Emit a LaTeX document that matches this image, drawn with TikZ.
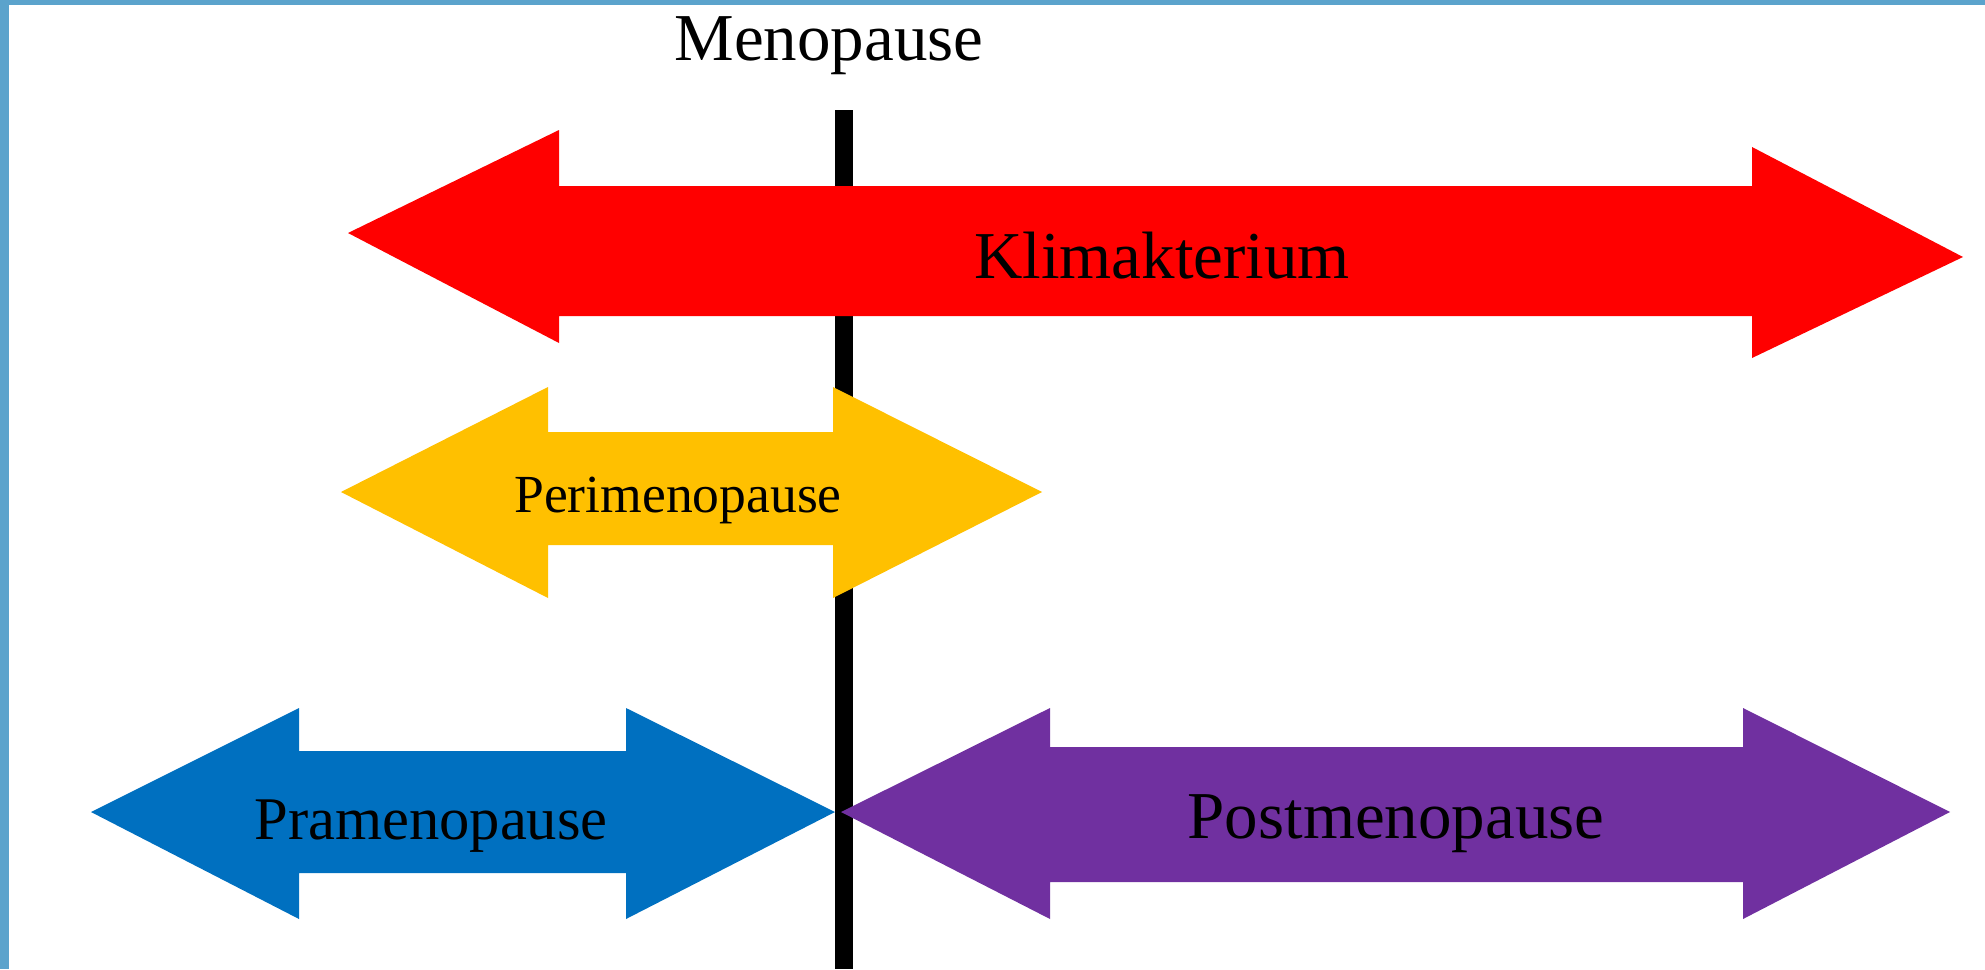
\documentclass[tikz,border=0pt]{standalone}
\usepackage{fontspec}
\setmainfont{Liberation Serif}
\definecolor{frameblue}{HTML}{5BA3CC}
\definecolor{klired}{HTML}{FF0000}
\definecolor{periyellow}{HTML}{FFC000}
\definecolor{prablue}{HTML}{0070C0}
\definecolor{postpurple}{HTML}{7030A0}
\tikzset{
  lbl/.style={anchor=base, inner sep=0pt, text=black},
}
\begin{document}
\begin{tikzpicture}[x=0.5pt,y=-0.5pt]
\useasboundingbox (0,0) rectangle (1985,969);
\fill[white] (0,0) rectangle (1985,969);
% frame bands
\fill[frameblue] (0,0) rectangle (1985,5);
\fill[frameblue] (0,0) rectangle (9,969);
% menopause line
\coordinate (ltop) at (844,110);
\coordinate (lbot) at (844,969);
\draw[black, line width=9pt] (ltop) -- (lbot);
% Klimakterium arrow
\fill[klired] (348,233) -- (559,130) -- (559,186) -- (1752,186) -- (1752,147)
  -- (1963,257) -- (1752,358) -- (1752,316) -- (559,316) -- (559,343) -- cycle;
% Perimenopause arrow
\fill[periyellow] (341,492) -- (548,387) -- (548,432) -- (833,432) -- (833,387)
  -- (1042,492) -- (833,598) -- (833,545) -- (548,545) -- (548,598) -- cycle;
% Pramenopause arrow
\fill[prablue] (91,812) -- (299,708) -- (299,751) -- (626,751) -- (626,708)
  -- (835,812) -- (626,919) -- (626,873) -- (299,873) -- (299,919) -- cycle;
% Postmenopause arrow
\fill[postpurple] (841,812) -- (1050,708) -- (1050,747) -- (1743,747) -- (1743,708)
  -- (1950,812) -- (1743,919) -- (1743,882) -- (1050,882) -- (1050,919) -- cycle;
% labels
\node[lbl, font=\fontsize{33.5}{40}\selectfont] (meno) at (829,60) {Menopause};
\node[lbl, font=\fontsize{33.5}{40}\selectfont] (kli) at (1162,278) {Klimakterium};
\node[lbl, font=\fontsize{26.8}{32}\selectfont] (peri) at (678,512) {Perimenopause};
\node[lbl, font=\fontsize{30.3}{36}\selectfont] (pra) at (431,839) {Pramenopause};
\node[lbl, font=\fontsize{33.5}{40}\selectfont] (post) at (1396,838) {Postmenopause};
\end{tikzpicture}
\end{document}
